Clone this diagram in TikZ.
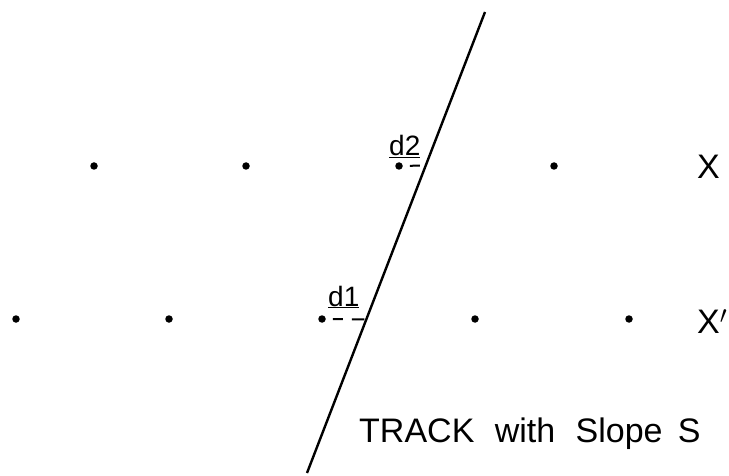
\documentclass[tikz,border=0pt]{standalone}
\usepackage{fontspec}
\setmainfont{Liberation Sans}
\usetikzlibrary{calc}

\begin{document}
\begin{tikzpicture}[x=1pt,y=-1pt,
  dot/.style={circle, fill=black, inner sep=0pt, minimum size=7.5pt},
  lbl/.style={font=\fontsize{34}{34}\selectfont, anchor=base west, inner sep=0pt},
  dlbl/.style={font=\fontsize{28}{28}\selectfont, anchor=base west, inner sep=0pt},
  gap/.style={line width=2pt, dash pattern=on 10pt off 9pt on 15pt off 9pt, shorten <=7pt, shorten >=2pt}]
\useasboundingbox (0,0) rectangle (729,476);
% the track
\coordinate (top) at (485,12);
\coordinate (bot) at (307,473);
\draw[line width=2.4pt] (top) -- (bot);
% row X
\node[dot] (x1) at (94,166) {};
\node[dot] (x2) at (246,166) {};
\node[dot] (x3) at (399,166) {};
\node[dot] (x4) at (554,166) {};
\node[lbl] (lx) at (697,179) {X};
% row X'
\node[dot] (y1) at (16,319) {};
\node[dot] (y2) at (169,319) {};
\node[dot] (y3) at (322,319) {};
\node[dot] (y4) at (475,319) {};
\node[dot] (y5) at (629,319) {};
\node[lbl] (ly) at (697,333) {X$'$};
% distances to the track
\coordinate (t2) at ($(top)!0.333!(bot)$);
\coordinate (t1) at ($(top)!0.667!(bot)$);
\draw[gap] (x3) -- (t2);
\draw[gap] (y3) -- (t1);
\node[dlbl] (d2) at (389,156) {\underline{d2}};
\node[dlbl] (d1) at (328,306) {\underline{d1}};
\node[lbl] (trk) at (359,442) {TRACK\hspace{0.6em}with\hspace{0.6em}Slope\hspace{0.45em}S};
\end{tikzpicture}
\end{document}
